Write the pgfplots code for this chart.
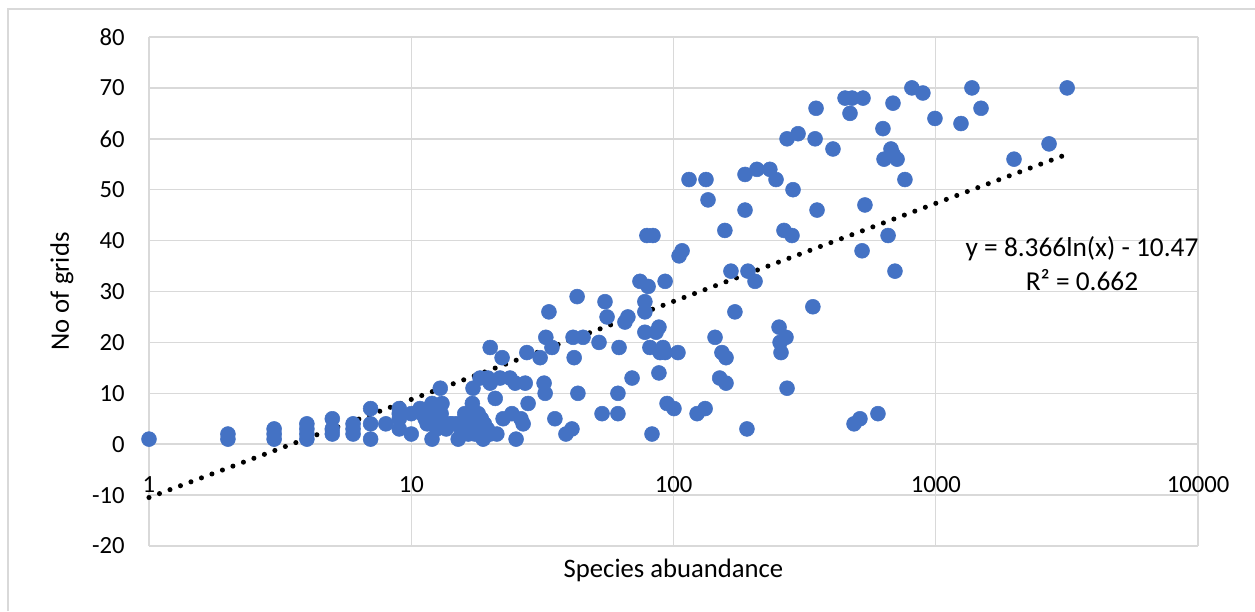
\documentclass[border=0pt]{standalone}
\usepackage{pgfplots}
\pgfplotsset{compat=1.18}
\usepackage{fontspec}
\setmainfont{Carlito}
\definecolor{ptblue}{HTML}{4472C4}
\definecolor{gridgrey}{HTML}{D9D9D9}

\begin{document}
\begin{tikzpicture}
% page frame: 1255 x 611 units of 0.75pt
\useasboundingbox (0,0) rectangle (941.25pt,458.25pt);
\draw[gridgrey, line width=1.2pt] (6pt,0pt) -- (6pt,451.5pt) -- (945pt,451.5pt);

\begin{axis}[
  at={(111.75pt,48.75pt)}, anchor=south west,
  scale only axis,
  width=786.75pt, height=381.75pt,
  xmode=log, log basis x=10,
  xmin=1, xmax=10000, ymin=-20, ymax=80,
  xtick={1,10,100,1000,10000},
  xticklabels={1,10,100,1000,10000},
  ytick={-20,-10,0,10,20,30,40,50,60,70,80},
  yticklabels={-20,-10,0,10,20,30,40,50,60,70,80},
  minor xtick={}, minor ytick={},
  major tick length=0pt,
  xmajorgrids, ymajorgrids,
  grid style={gridgrey, line width=1.1pt},
  axis line style={draw=none},
  clip=false,
  font=\fontsize{20}{24}\selectfont,
  ticklabel style={font=\fontsize{18.5}{22}\selectfont},
  xticklabel style={anchor=center, inner sep=0pt, yshift=45.75pt},
  yticklabel style={anchor=east, inner sep=0pt, xshift=-18pt},
  xlabel={Species abuandance},
  ylabel={No of grids},
  every axis x label/.style={at={(axis description cs:0.5,-0.047)}, anchor=center},
  every axis y label/.style={at={(axis description cs:-0.083,0.5)}, rotate=90, anchor=center},
]
% observed species: abundance vs number of occupied grids
\addplot[only marks, mark=*, mark size=5.6pt, color=ptblue, mark options={fill=ptblue, draw=ptblue}]
coordinates {
(1,1)
(2,1) (2,2)
(3,1) (3,2) (3,3)
(4,1) (4,2) (4,3) (4,4)
(5,2) (5,3) (5,5)
(6,2) (6,3) (6,4)
(7,1) (7,4) (7,7)
(8,4)
(9,3) (9,5) (9,6) (9,7)
(10,2) (10,6)
(10.8,7) (11,6) (11.3,5) (11.5,4) (11.6,7) (12,1) (12,8) (12.3,6) (12.5,3)
(12.9,11) (12.9,5) (13,6) (13.1,4) (13.1,8) (13.6,3) (14,4) (14.3,4) (14.8,4)
(15.1,1) (15.5,2) (15.6,4) (16,6) (16,5) (16.5,3) (16.5,2) (16.7,5) (17,4)
(17.1,8) (17.2,11) (17.5,2) (17.7,6) (18,6) (18.3,13) (18.3,4) (18.5,5)
(18.8,1) (19,4) (19.5,3) (19.6,13) (20,19) (20,12) (20,2) (20.9,9) (21.2,2)
(21.8,13) (22.2,17) (22.4,5) (23.8,13) (24.2,6) (24.9,12) (25.1,1) (26.2,5)
(26.7,4) (27.2,12) (27.6,18) (27.9,8)
(31,17) (32.1,12) (32.4,10) (32.6,21) (33.5,26) (34.4,19) (35.3,5)
(38.9,2) (41,3) (41.4,21) (41.8,17) (42.9,29) (43.2,10) (45.2,21)
(52,20) (53.4,6) (54.8,28) (55.8,25) (61.4,6) (61.4,10) (62,19)
(65.3,24) (67,25) (69.5,13) (74.5,32) (77.8,28) (77.8,26) (77.8,22)
(80,31) (79.2,41) (83.5,41) (82.8,2) (81.3,19) (85.8,22) (88,23) (88,14)
(88.9,18) (91.2,19) (92.9,32) (92.9,18) (94.5,8) (100.4,7) (104,18)
(105,37) (107.8,38) (114.6,52) (123,6) (132,7) (133,52) (135.4,48)
(144,21) (150,13) (153,18) (158.6,17) (158.6,12) (157,42) (165.6,34)
(171.5,26) (187.4,53) (187.4,46) (190.6,3) (192.3,34) (204.6,32) (208,54)
(233,54) (246,52) (252.6,23) (254.9,20) (257,18) (263.8,42) (268.5,21)
(271,60) (271,11) (283,41) (285.6,50) (298.5,61) (340,27) (346.7,60)
(349.6,66) (352.6,46) (405.6,58) (451,68) (479.6,68) (471,65) (488,4)
(514,5) (528,68) (523.6,38) (537,47) (602,6) (629,62) (635,56) (658,41)
(675,58) (687,57) (687,67) (699,34) (712,56) (763,52) (811,70) (893,69)
(993,64) (1248,63) (1374,70) (1488,66) (1988,56) (2704,59) (3170,70)
};
% logarithmic trend line y = 8.366 ln(x) - 10.47 (straight on a log axis)
\addplot[black, line width=3.8pt, line cap=round, dash pattern=on 0pt off 8.4pt]
coordinates {(1,-10.47) (3170,56.97)};
\node[font=\fontsize{20.5}{24}\selectfont, anchor=center] at (axis cs:3612,38.5) {y = 8.366ln(x) - 10.47};
\node[font=\fontsize{20.5}{24}\selectfont, anchor=center] at (axis cs:3612,32.2) {R² = 0.662};
\end{axis}
\end{tikzpicture}
\end{document}
